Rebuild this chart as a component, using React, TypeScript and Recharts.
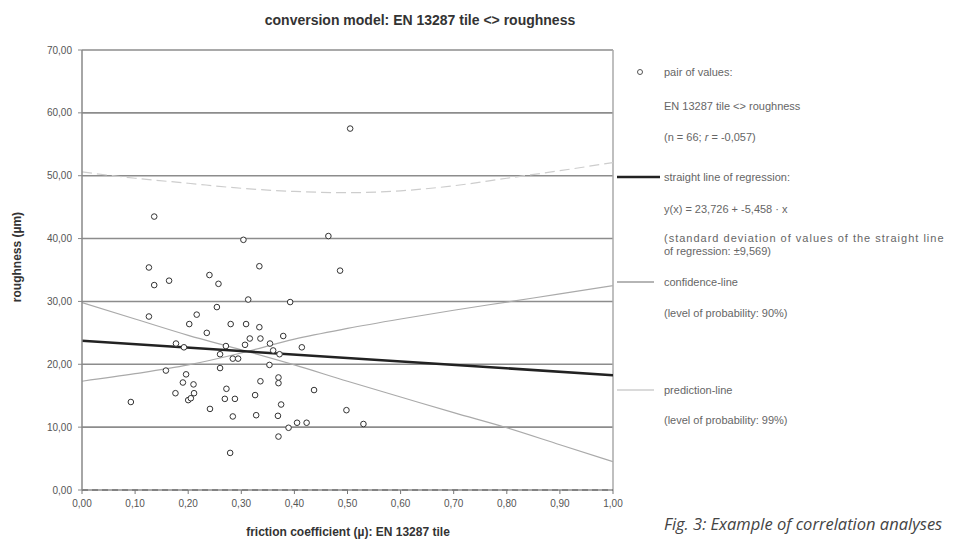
import React from 'react';
import { ComposedChart, Scatter, Line, XAxis, YAxis, CartesianGrid, ReferenceLine } from 'recharts';

// pairs of values: friction coefficient (x) and roughness in µm (y)
const frictionValues = [
  0.092, 0.126, 0.136, 0.136, 0.164, 0.126, 0.158, 0.176, 0.177, 0.19, 0.192,
  0.196, 0.2, 0.205, 0.21, 0.211, 0.202, 0.216, 0.235, 0.24, 0.241, 0.254,
  0.257, 0.26, 0.26, 0.269, 0.271, 0.272, 0.279, 0.28, 0.284, 0.284, 0.288,
  0.294, 0.304, 0.307, 0.309, 0.313, 0.316, 0.326, 0.328, 0.334, 0.334, 0.336,
  0.336, 0.353, 0.354, 0.36, 0.369, 0.37, 0.37, 0.37, 0.372, 0.375, 0.379,
  0.389, 0.392, 0.405, 0.414, 0.423, 0.437, 0.464, 0.486, 0.498, 0.505, 0.53,
];
const roughnessValues = [
  14.0, 35.4, 43.5, 32.6, 33.3, 27.6, 19.0, 15.4, 23.3, 17.1, 22.7,
  18.4, 14.3, 14.6, 16.8, 15.4, 26.4, 27.9, 25.0, 34.2, 12.9, 29.1,
  32.8, 21.6, 19.4, 14.5, 22.9, 16.1, 5.9, 26.4, 11.7, 20.9, 14.5,
  20.9, 39.8, 23.1, 26.4, 30.3, 24.1, 15.1, 11.9, 35.6, 25.9, 24.1,
  17.3, 19.9, 23.3, 22.2, 11.8, 17.9, 17.0, 8.5, 21.6, 13.6, 24.5,
  9.9, 29.9, 10.7, 22.7, 10.7, 15.9, 40.4, 34.9, 12.7, 57.5, 10.5,
];

// straight line of regression, read at both ends
const regressionX = [0, 1];
const regressionY = [23.73, 18.27];

// confidence-lines (90%) and prediction-line (99%)
const bandX = [0, 0.1, 0.2, 0.3, 0.4, 0.5, 0.6, 0.7, 0.8, 0.9, 1.0];
const confidenceFalling = [29.8, 27.2, 24.6, 22.3, 19.9, 17.3, 14.8, 12.3, 9.9, 7.2, 4.5];
const confidenceRising = [17.3, 18.5, 19.9, 21.8, 24.0, 25.7, 27.2, 28.6, 29.9, 31.2, 32.5];
const predictionUpper = [50.6, 49.6, 48.8, 48.0, 47.5, 47.3, 47.6, 48.4, 49.6, 50.8, 52.1];

const xTicks = [0, 0.1, 0.2, 0.3, 0.4, 0.5, 0.6, 0.7, 0.8, 0.9, 1.0];
const yTicks = [0, 10, 20, 30, 40, 50, 60, 70];

const pairs = frictionValues.map((x, i) => ({ x, y: roughnessValues[i] }));
const regression = regressionX.map((x, i) => ({ x, y: regressionY[i] }));
const confFall = bandX.map((x, i) => ({ x, y: confidenceFalling[i] }));
const confRise = bandX.map((x, i) => ({ x, y: confidenceRising[i] }));
const predUp = bandX.map((x, i) => ({ x, y: predictionUpper[i] }));

const fmt = (v: number) => v.toFixed(2).replace('.', ',');

const FONT = '"Liberation Sans", Arial, sans-serif';

const Ring = (props: any) => {
  const { cx, cy } = props;
  if (cx == null || cy == null) return null;
  return <circle cx={cx} cy={cy} r={2.8} fill="#fff" stroke="#333" strokeWidth={1} />;
};

const legendText: React.CSSProperties = {
  position: 'absolute',
  left: 664,
  fontFamily: FONT,
  fontSize: 11,
  color: '#666',
  lineHeight: '13px',
  transform: 'translateY(-50%)',
  whiteSpace: 'nowrap',
};

const LegendRow = ({ y, children }: { y: number; children: React.ReactNode }) => (
  <div style={{ ...legendText, top: y }}>{children}</div>
);

export default function App() {
  return (
    <div style={{ position: 'absolute', left: 0, top: 0, width: 960, height: 540, background: '#fff', overflow: 'hidden' }}>
      <div
        style={{
          position: 'absolute', left: 420, top: 20, transform: 'translate(-50%, -50%)',
          fontFamily: FONT, fontWeight: 'bold', fontSize: 14, color: '#333', whiteSpace: 'nowrap',
        }}
      >
        conversion model: EN 13287 tile &lt;&gt; roughness
      </div>

      <ComposedChart
        width={960}
        height={540}
        margin={{ top: 50, right: 347, bottom: 20, left: 22 }}
        style={{ fontFamily: FONT }}
      >
        <CartesianGrid vertical={false} stroke="#8c8c8c" strokeWidth={1.6} />
        <XAxis
          type="number"
          dataKey="x"
          domain={[0, 1]}
          ticks={xTicks}
          tickFormatter={fmt}
          allowDataOverflow
          height={30}
          tickSize={4}
          tickMargin={6}
          axisLine={{ stroke: '#777', strokeDasharray: '6 4', strokeWidth: 1.5 }}
          tickLine={{ stroke: '#777' }}
          tick={{ fill: '#555', fontSize: 10 }}
        />
        <YAxis
          type="number"
          dataKey="y"
          domain={[0, 70]}
          ticks={yTicks}
          tickFormatter={fmt}
          allowDataOverflow
          width={60}
          tickSize={4}
          tickMargin={6}
          axisLine={{ stroke: '#888', strokeWidth: 1.5 }}
          tickLine={{ stroke: '#888' }}
          tick={{ fill: '#555', fontSize: 10 }}
        />
        <ReferenceLine x={1} stroke="#aaa" strokeWidth={1.5} />
        <Line
          data={predUp}
          dataKey="y"
          type="monotone"
          stroke="#cdcdcd"
          strokeWidth={1.2}
          strokeDasharray="10 5"
          dot={false}
          activeDot={false}
          isAnimationActive={false}
        />
        <Line
          data={confFall}
          dataKey="y"
          type="monotone"
          stroke="#aaaaaa"
          strokeWidth={1.2}
          dot={false}
          activeDot={false}
          isAnimationActive={false}
        />
        <Line
          data={confRise}
          dataKey="y"
          type="monotone"
          stroke="#aaaaaa"
          strokeWidth={1.2}
          dot={false}
          activeDot={false}
          isAnimationActive={false}
        />
        <Line
          data={regression}
          dataKey="y"
          type="linear"
          stroke="#222"
          strokeWidth={2.5}
          dot={false}
          activeDot={false}
          isAnimationActive={false}
        />
        <Scatter data={pairs} dataKey="y" shape={<Ring />} isAnimationActive={false} />
      </ComposedChart>

      <div
        style={{
          position: 'absolute', left: 348, top: 532, transform: 'translate(-50%, -50%)',
          fontFamily: FONT, fontWeight: 'bold', fontSize: 12, color: '#333', whiteSpace: 'nowrap',
        }}
      >
        friction coefficient (µ): EN 13287 tile
      </div>
      <div
        style={{
          position: 'absolute', left: 17, top: 257, transform: 'translate(-50%, -50%) rotate(-90deg)',
          fontFamily: FONT, fontWeight: 'bold', fontSize: 12, color: '#333', whiteSpace: 'nowrap',
        }}
      >
        roughness (µm)
      </div>

      {/* legend markers */}
      <svg width={60} height={400} style={{ position: 'absolute', left: 610, top: 40 }}>
        <circle cx={30} cy={32} r={2.5} fill="#fff" stroke="#555" strokeWidth={1} />
        <line x1={7} y1={137} x2={50} y2={137} stroke="#222" strokeWidth={2.5} />
        <line x1={7} y1={242} x2={44} y2={242} stroke="#b5b5b5" strokeWidth={2} />
        <line x1={7} y1={350} x2={44} y2={350} stroke="#dadada" strokeWidth={2} />
      </svg>
      <LegendRow y={72}>pair of values:</LegendRow>
      <LegendRow y={106}>EN 13287 tile &lt;&gt; roughness</LegendRow>
      <LegendRow y={137}>(n = 66;  <i>r</i> = -0,057)</LegendRow>
      <LegendRow y={177}>straight line of regression:</LegendRow>
      <LegendRow y={209}>y(x) = 23,726 + -5,458 · x</LegendRow>
      <div style={{ ...legendText, top: 245 }}>
        <span style={{ letterSpacing: 1 }}>(standard deviation of values of the straight line</span>
        <br />
        of regression: ±9,569)
      </div>
      <LegendRow y={282}>confidence-line</LegendRow>
      <LegendRow y={313}>(level of probability: 90%)</LegendRow>
      <LegendRow y={390}>prediction-line</LegendRow>
      <LegendRow y={420}>(level of probability: 99%)</LegendRow>

      <div
        style={{
          position: 'absolute', left: 664, top: 523, transform: 'translateY(-50%)',
          fontFamily: '"Open Sans", sans-serif', fontStyle: 'italic', fontSize: 16.5, color: '#444', whiteSpace: 'nowrap',
        }}
      >
        Fig. 3: Example of correlation analyses
      </div>
    </div>
  );
}
